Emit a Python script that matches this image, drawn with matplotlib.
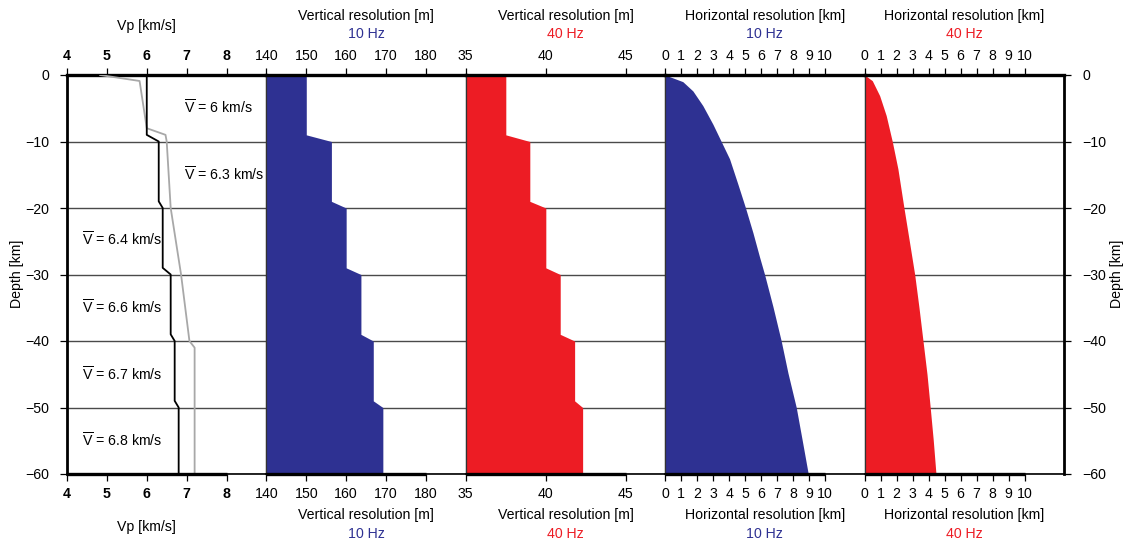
import matplotlib
matplotlib.use("Agg")
import matplotlib.pyplot as plt

plt.rcParams['font.family'] = ['Liberation Sans', 'DejaVu Sans']
plt.rcParams['mathtext.fontset'] = 'custom'
plt.rcParams['mathtext.rm'] = 'Liberation Sans'
plt.rcParams['mathtext.it'] = 'Liberation Sans:italic'

BLUE = '#2E3192'
RED = '#ED1C24'

# ---------------- data ----------------
# layered average Vp model (black) and step depths
step_depth = [0, -9, -10, -19, -20, -29, -30, -39, -40, -49, -50, -60]
vp_avg = [6.0, 6.0, 6.3, 6.3, 6.4, 6.4, 6.6, 6.6, 6.7, 6.7, 6.8, 6.8]

# detailed Vp model (gray)
vp_model_depth = [0, -0.9, -8, -9, -10, -20, -30, -40, -41, -60]
vp_model = [4.83, 5.82, 6.0, 6.47, 6.5, 6.6, 6.86, 7.07, 7.2, 7.2]

# vertical resolution [m]
vres_10hz = [150, 150, 156.3, 156.3, 160, 160, 163.7, 163.7, 166.8, 166.8, 169.2, 169.2]
vres_40hz = [37.5, 37.5, 39.0, 39.0, 40.0, 40.0, 40.9, 40.9, 41.8, 41.8, 42.3, 42.3]

# horizontal resolution [km]
hres10_depth = [0, -1.0, -2.4, -4.6, -7.4, -10, -12.6, -16.4, -20, -23.7, -27.4,
                -30, -34.8, -40, -44.8, -50, -54.9, -60]
hres_10hz = [0, 1.10, 1.73, 2.35, 2.98, 3.5, 4.02, 4.54, 5.02, 5.48, 5.9,
             6.21, 6.73, 7.25, 7.67, 8.19, 8.56, 8.94]
hres40_depth = [0, -0.85, -3.1, -6.1, -10, -14.1, -20, -25.2, -30, -35, -40,
                -45, -50, -54.9, -60]
hres_40hz = [0, 0.48, 0.94, 1.35, 1.73, 2.08, 2.46, 2.81, 3.13, 3.40, 3.65,
             3.9, 4.1, 4.29, 4.46]

vavg_labels = ['6', '6.3', '6.4', '6.6', '6.7', '6.8']
vavg_label_depth = [-4.9, -15, -24.8, -35, -45, -55]
vavg_label_x = [6.93, 6.93, 4.37, 4.37, 4.37, 4.37]

depth_ticks = [0, -10, -20, -30, -40, -50, -60]
depth_ticklabels = ['0', '\u221210', '\u221220', '\u221230', '\u221240', '\u221250', '\u221260']

panel_xlim = [(4, 9), (140, 190), (35, 47.46), (0, 12.46), (0, 12.46)]
panel_xticks = [[4, 5, 6, 7, 8], [140, 150, 160, 170, 180], [35, 40, 45],
                list(range(0, 11)), list(range(0, 11))]
panel_title = ['Vp [km/s]', 'Vertical resolution [m]', 'Vertical resolution [m]',
               'Horizontal resolution [km]', 'Horizontal resolution [km]']
panel_freq = [None, '10 Hz', '40 Hz', '10 Hz', '40 Hz']
panel_freq_color = [None, BLUE, RED, BLUE, RED]
panel_title_x = [0.40, 0.5, 0.5, 0.5, 0.5]

# ---------------- figure ----------------
W, H = 1123, 541
fig = plt.figure(figsize=(W / 100, H / 100), dpi=100)
x0, x1 = 67, 1064
y_top, y_bot = 75, 474
pw = (x1 - x0) / 5
axes = []
for i in range(5):
    ax = fig.add_axes([(x0 + i * pw) / W, (H - y_bot) / H, pw / W, (y_bot - y_top) / H],
                      sharey=axes[0] if axes else None)
    axes.append(ax)

FS = 10.2
for i, ax in enumerate(axes):
    ax.set_xlim(*panel_xlim[i])
    ax.set_ylim(-60, 0)
    ax.set_xticks(panel_xticks[i])
    ax.set_xticklabels([str(t) for t in panel_xticks[i]],
                       fontweight='bold' if i == 0 else 'normal')
    ax.tick_params(axis='x', which='both', top=True, bottom=True, labeltop=True,
                   labelbottom=True, direction='out', length=5, width=0.9,
                   pad=4, labelsize=FS, colors='black')
    ax.set_yticks(depth_ticks)
    ax.set_yticklabels(depth_ticklabels)
    ax.tick_params(axis='y', direction='out', length=5, width=0.9, labelsize=FS,
                   left=(i == 0), labelleft=(i == 0),
                   right=(i == 4), labelright=(i == 4), pad=8)
    ax.grid(axis='y', color='#4a4a4a', lw=1.0)
    ax.set_axisbelow(True)
    for s in ('left', 'right'):
        ax.spines[s].set_linewidth(0.9)
        ax.spines[s].set_color('#333333')
    ax.spines['top'].set_linewidth(2.4)
    ax.spines['bottom'].set_linewidth(1.2)
    # thick bottom line across the tick range
    ax.plot([panel_xticks[i][0], panel_xticks[i][-1]], [-60, -60], color='black',
            lw=2.4, clip_on=False, zorder=5, solid_capstyle='butt')

    # titles top and bottom
    ax.text(panel_title_x[i], 1.0 + (59 if i else 49) / 399, panel_title[i],
            transform=ax.transAxes, ha='center', va='center', fontsize=FS)
    ax.text(panel_title_x[i], -(41 if i else 53) / 399, panel_title[i],
            transform=ax.transAxes, ha='center', va='center', fontsize=FS)
    if panel_freq[i]:
        ax.text(0.5, 1.0 + 41 / 399, panel_freq[i], transform=ax.transAxes,
                ha='center', va='center', fontsize=FS, color=panel_freq_color[i])
        ax.text(0.5, -60 / 399, panel_freq[i], transform=ax.transAxes,
                ha='center', va='center', fontsize=FS, color=panel_freq_color[i])

axes[0].spines['left'].set_linewidth(2.0)
axes[0].spines['left'].set_color('black')
axes[4].spines['right'].set_linewidth(2.0)
axes[4].spines['right'].set_color('black')

# panel 1: Vp
ax = axes[0]
ax.plot(vp_model, vp_model_depth, color='#a8a8a8', lw=1.3, zorder=3)
ax.plot(vp_avg, step_depth, color='black', lw=1.3, zorder=4)
for lab, d, xx in zip(vavg_labels, vavg_label_depth, vavg_label_x):
    ax.text(xx, d, r'$\overline{\mathrm{V}}$' + ' = ' + lab + ' km/s', fontsize=FS,
            ha='left', va='center', zorder=6, clip_on=False)

# panel 2, 3: vertical resolution
axes[1].fill_betweenx(step_depth, 140, vres_10hz, color=BLUE, lw=0, zorder=2)
axes[2].fill_betweenx(step_depth, 35, vres_40hz, color=RED, lw=0, zorder=2)
# panel 4, 5: horizontal resolution
axes[3].fill_betweenx(hres10_depth, 0, hres_10hz, color=BLUE, lw=0, zorder=2)
axes[4].fill_betweenx(hres40_depth, 0, hres_40hz, color=RED, lw=0, zorder=2)

fig.text(17 / W, (H - 274) / H, 'Depth [km]', rotation=90, ha='center', va='center',
         fontsize=FS)
fig.text(1117 / W, (H - 274) / H, 'Depth [km]', rotation=90, ha='center', va='center',
         fontsize=FS)

fig.savefig('out.png', dpi=100)
